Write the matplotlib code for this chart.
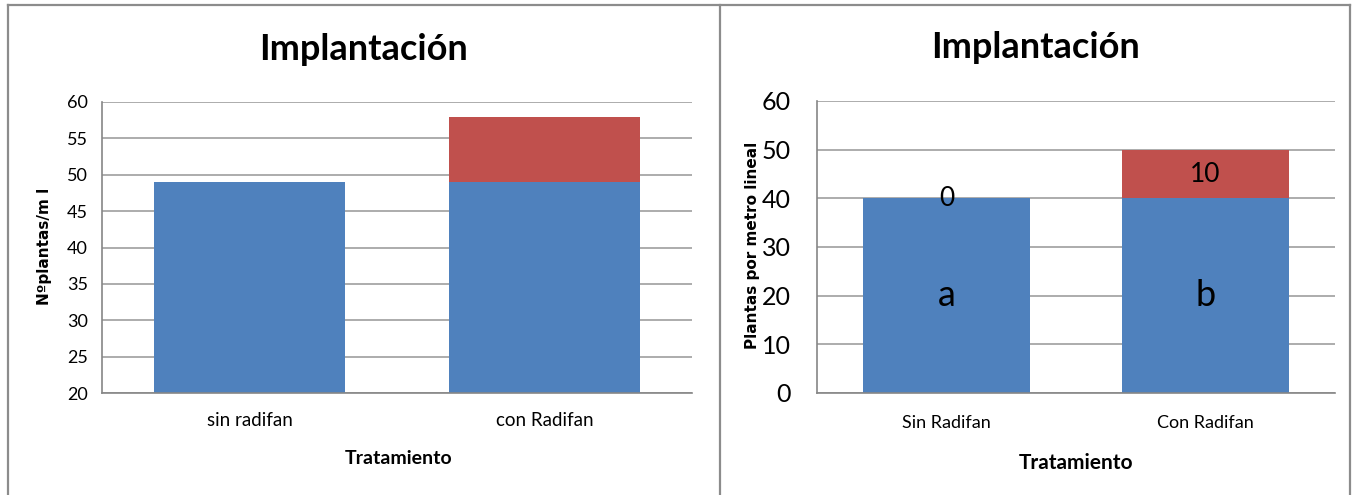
import matplotlib
matplotlib.use("Agg")
import matplotlib.pyplot as plt
from matplotlib.lines import Line2D

plt.rcParams['font.family'] = ['Lato', 'DejaVu Sans']

# ---- data ----
left_categories = ["sin radifan", "con Radifan"]
left_base = [49, 49]
left_extra = [0, 9]

right_categories = ["Sin Radifan", "Con Radifan"]
right_base = [40, 40]
right_extra = [0, 10]
right_base_labels = ["a", "b"]
right_extra_labels = ["0", "10"]

left_yticks = [20, 25, 30, 35, 40, 45, 50, 55, 60]
right_yticks = [0, 10, 20, 30, 40, 50, 60]

BLUE = "#4F81BD"
RED = "#C0504D"
GRID = "#A6A6A6"
AXIS = "#868686"
FRAME = "#8C8C8C"

W, H = 1356, 495
fig = plt.figure(figsize=(W / 100, H / 100), dpi=100)


def px_axes(x0, y0, x1, y1):
    return fig.add_axes([x0 / W, 1 - y1 / H, (x1 - x0) / W, (y1 - y0) / H])


def style(ax, ylim, yticks, tick_fs, ypad, xfs, xpad):
    ax.set_ylim(*ylim)
    ax.set_yticks(yticks)
    ax.set_xlim(-0.5, 1.5)
    ax.yaxis.grid(True, color=GRID, linewidth=1.3)
    ax.set_axisbelow(True)
    for s in ("top", "right"):
        ax.spines[s].set_visible(False)
    for s in ("left", "bottom"):
        ax.spines[s].set_color(AXIS)
        ax.spines[s].set_linewidth(1.2)
    ax.tick_params(axis="y", length=0, labelsize=tick_fs, pad=ypad, colors="black")
    ax.tick_params(axis="x", length=0, labelsize=xfs, pad=xpad, colors="black")


# ---- left chart ----
axL = px_axes(102, 102, 692, 393)
xL = range(len(left_categories))
axL.bar(xL, left_base, width=0.65, color=BLUE)
axL.bar(xL, left_extra, width=0.65, bottom=left_base, color=RED)
axL.set_xticks(list(xL))
axL.set_xticklabels(left_categories)
style(axL, (20, 60), left_yticks, 13, 10, 13.5, 14)

# ---- right chart ----
axR = px_axes(817, 101, 1335, 393)
xR = range(len(right_categories))
b1 = axR.bar(xR, right_base, width=0.645, color=BLUE)
b2 = axR.bar(xR, right_extra, width=0.645, bottom=right_base, color=RED)
axR.set_xticks(list(xR))
axR.set_xticklabels(right_categories)
style(axR, (0, 60), right_yticks, 18, 19, 13, 16)
axR.bar_label(b1, labels=right_base_labels, label_type="center", fontsize=26)
axR.bar_label(b2, labels=right_extra_labels, label_type="center", fontsize=19)

# ---- titles & axis titles ----
fig.text(364 / W, 1 - 50 / H, "Implantación", ha="center", va="center",
         fontsize=26, fontweight="bold")
fig.text(1035 / W, 1 - 47 / H, "Implantación", ha="center", va="center",
         fontsize=26, fontweight="bold")
fig.text(399 / W, 1 - 459 / H, "Tratamiento", ha="center", va="center",
         fontsize=14, fontweight="bold")
fig.text(1076 / W, 1 - 463 / H, "Tratamiento", ha="center", va="center",
         fontsize=15, fontweight="bold")
fig.text(45 / W, 1 - 246 / H, "Nºplantas/m l", ha="center", va="center",
         rotation=90, fontsize=11, fontweight="bold", family=['DejaVu Sans'])
fig.text(752 / W, 1 - 245 / H, "Plantas por metro lineal", ha="center", va="center",
         rotation=90, fontsize=11, fontweight="bold", family=['DejaVu Sans'])

# ---- panel frames ----
for (xa, ya, xb, yb) in [(8, 5, 1350, 5), (8, 5, 8, 495), (720, 5, 720, 495), (1350, 5, 1350, 495)]:
    fig.add_artist(Line2D([xa / W, xb / W], [1 - ya / H, 1 - yb / H],
                          color=FRAME, linewidth=1.6, transform=fig.transFigure))

fig.savefig("out.png", dpi=100)
